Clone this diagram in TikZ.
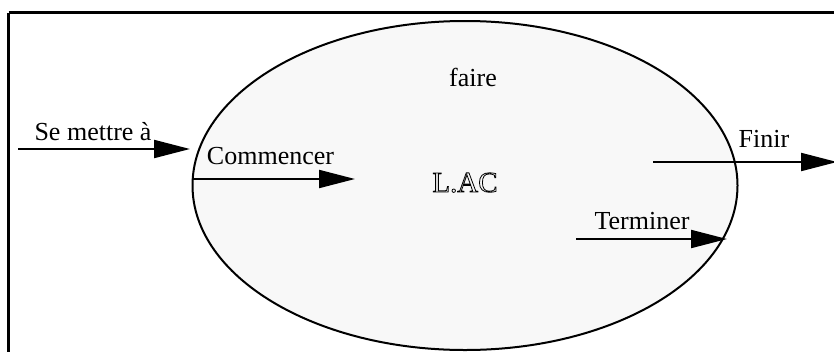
\documentclass[tikz,border=0pt]{standalone}
\usepackage{fontspec}
\setmainfont{Liberation Serif}
\usetikzlibrary{arrows.meta,shapes.geometric}
\newcommand\outlinetext[1]{\special{pdf:literal direct 1 Tr 0.8 w}#1\special{pdf:literal direct 0 Tr}}
\tikzset{
  lbl/.style={anchor=base, inner sep=0pt, font=\fontsize{26}{30}\selectfont},
  flow/.style={line width=2pt, -{Triangle[length=36pt,width=18pt]}},
}
\begin{document}
\begin{tikzpicture}[x=1pt,y=-1pt]
\useasboundingbox (0,0) rectangle (834,351);
\draw[line width=2.2pt] (8.5,12.5) -- (845,12.5) (8.5,12.5) -- (8.5,360);
\node[ellipse, draw, line width=2pt, fill={rgb,255:red,248;green,248;blue,248},
      minimum width=545pt, minimum height=329pt, inner sep=0pt] (ell) at (465,185.5) {};
\node[lbl] (faire) at (473,86) {faire};
\node[lbl, font=\fontsize{29}{33}\selectfont] (lac) at (465,192) {\outlinetext{L.AC}};
\node[lbl] (se) at (93,140) {Se mettre à};
\node[lbl] (com) at (270.5,164) {Commencer};
\node[lbl] (fin) at (764,147) {Finir};
\node[lbl] (ter) at (642,229) {Terminer};
\coordinate (a1) at (18,149);
\coordinate (b1) at (190,149);
\coordinate (a2) at (193,179);
\coordinate (b2) at (355,179);
\coordinate (a3) at (653,162);
\coordinate (b3) at (837,162);
\coordinate (a4) at (576,239);
\coordinate (b4) at (727,239);
\draw[flow] (a1) -- (b1);
\draw[flow] (a2) -- (b2);
\draw[flow] (a3) -- (b3);
\draw[flow] (a4) -- (b4);
\end{tikzpicture}
\end{document}
